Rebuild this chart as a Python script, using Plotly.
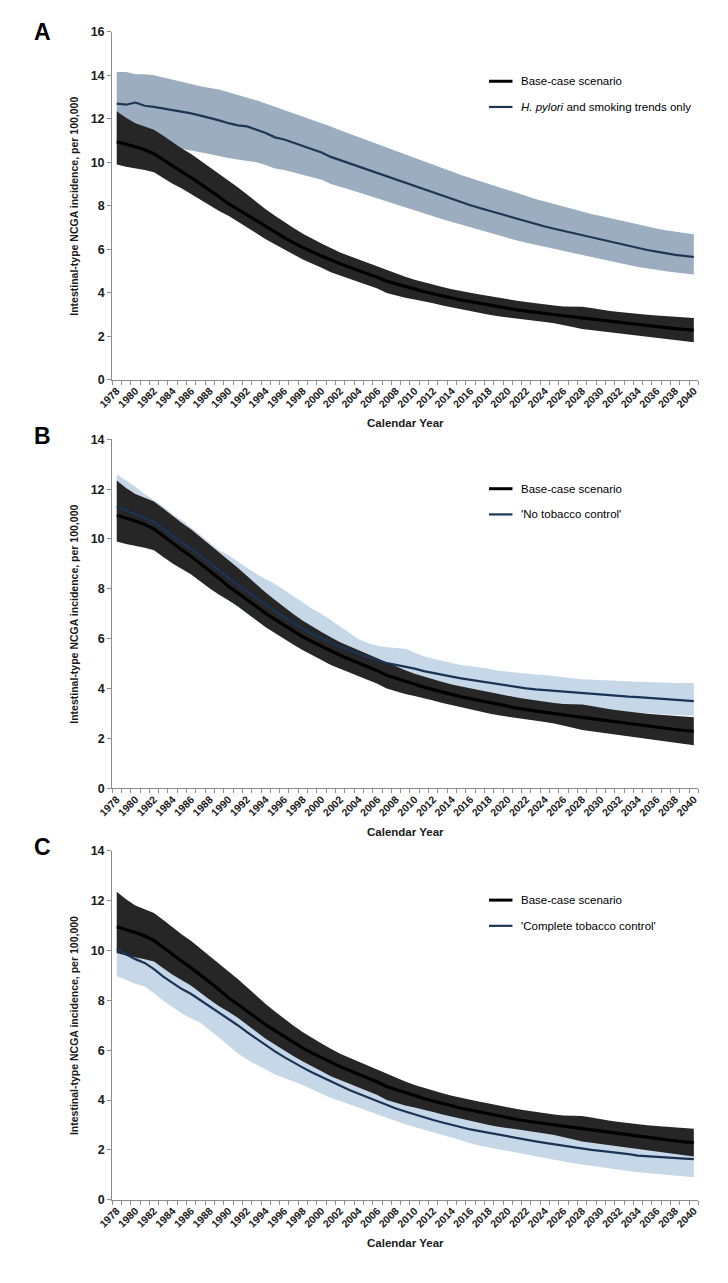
import plotly.graph_objects as go

years = list(range(1978, 2041))

base_mid = [10.95, 10.85, 10.72, 10.58, 10.4, 10.12, 9.82, 9.56, 9.3, 9.02,
            8.72, 8.42, 8.1, 7.84, 7.56, 7.28, 7.02, 6.78, 6.54, 6.3,
            6.08, 5.88, 5.7, 5.5, 5.34, 5.18, 5.03, 4.88, 4.72, 4.54,
            4.42, 4.27, 4.16, 4.06, 3.96, 3.86, 3.76, 3.67, 3.6, 3.52,
            3.43, 3.36, 3.28, 3.22, 3.16, 3.1, 3.05, 3.0, 2.95, 2.9,
            2.85, 2.79, 2.73, 2.68, 2.63, 2.58, 2.53, 2.49, 2.45, 2.4,
            2.36, 2.32, 2.29]
base_hi = [12.35, 12.05, 11.8, 11.65, 11.5, 11.22, 10.92, 10.64, 10.38, 10.08,
           9.78, 9.48, 9.15, 8.85, 8.52, 8.18, 7.85, 7.55, 7.25, 6.98,
           6.72, 6.48, 6.27, 6.06, 5.86, 5.7, 5.54, 5.39, 5.23, 5.04,
           4.9, 4.74, 4.6, 4.48, 4.37, 4.27, 4.17, 4.08, 4.01, 3.93,
           3.86, 3.78, 3.71, 3.64, 3.58, 3.52, 3.47, 3.42, 3.38, 3.37,
           3.36, 3.3, 3.22, 3.17, 3.12, 3.07, 3.02, 2.99, 2.96, 2.93,
           2.9, 2.88, 2.85]
base_lo = [9.9, 9.8, 9.72, 9.65, 9.55, 9.28, 9.02, 8.8, 8.58, 8.3,
           8.02, 7.76, 7.54, 7.3, 7.02, 6.74, 6.46, 6.24, 6.0, 5.76,
           5.54, 5.34, 5.15, 4.95, 4.8, 4.65, 4.5, 4.35, 4.2, 4.0,
           3.88, 3.78, 3.7, 3.62, 3.52, 3.42, 3.33, 3.24, 3.17, 3.08,
           3.0, 2.93, 2.86, 2.81, 2.76, 2.71, 2.66, 2.6, 2.52, 2.43,
           2.34, 2.27, 2.21, 2.16, 2.11, 2.06, 2.01, 1.96, 1.91, 1.86,
           1.81, 1.78, 1.73]

hp_mid = [12.7, 12.65, 12.75, 12.6, 12.55, 12.48, 12.42, 12.33, 12.25, 12.15,
          12.05, 11.93, 11.8, 11.7, 11.65, 11.5, 11.35, 11.15, 11.05, 10.9,
          10.75, 10.6, 10.45, 10.25, 10.1, 9.95, 9.8, 9.65, 9.5, 9.35,
          9.2, 9.05, 8.9, 8.75, 8.6, 8.45, 8.3, 8.17, 8.03, 7.9,
          7.78, 7.65, 7.53, 7.4, 7.28, 7.15, 7.05, 6.95, 6.85, 6.75,
          6.65, 6.55, 6.45, 6.35, 6.25, 6.15, 6.05, 5.97, 5.9, 5.82,
          5.75, 5.7, 5.65]
hp_hi = [14.15, 14.15, 14.05, 14.05, 14.0, 13.9, 13.78, 13.68, 13.58, 13.5,
         13.42, 13.35, 13.22, 13.1, 13.0, 12.85, 12.7, 12.55, 12.42, 12.28,
         12.12, 11.98, 11.82, 11.65, 11.48, 11.32, 11.15, 11.0, 10.85, 10.7,
         10.52, 10.38, 10.22, 10.06, 9.9, 9.74, 9.58, 9.42, 9.28, 9.14,
         9.0, 8.86, 8.72, 8.58, 8.45, 8.32, 8.2, 8.08, 7.96, 7.85,
         7.74, 7.63, 7.53, 7.43, 7.33, 7.23, 7.13, 7.04, 6.96, 6.88,
         6.8, 6.75, 6.7]
hp_lo = [10.9, 10.85, 10.9, 10.82, 10.78, 10.73, 10.62, 10.61, 10.55, 10.47,
         10.39, 10.3, 10.2, 10.13, 10.08, 10.0, 9.88, 9.72, 9.65, 9.54,
         9.43, 9.32, 9.2, 9.01, 8.88, 8.75, 8.62, 8.48, 8.35, 8.21,
         8.08, 7.94, 7.8, 7.66, 7.52, 7.38, 7.24, 7.12, 6.99, 6.87,
         6.76, 6.64, 6.53, 6.41, 6.3, 6.18, 6.09, 6.0, 5.91, 5.82,
         5.73, 5.64, 5.55, 5.46, 5.37, 5.28, 5.19, 5.12, 5.06, 4.99,
         4.93, 4.89, 4.85]

notc_mid = [11.3, 11.15, 11.0, 10.85, 10.68, 10.4, 10.12, 9.86, 9.6, 9.32,
            9.03, 8.74, 8.44, 8.17, 7.9, 7.62, 7.36, 7.1, 6.86, 6.62,
            6.4, 6.2, 6.02, 5.84, 5.68, 5.52, 5.38, 5.26, 5.14, 5.02,
            4.95, 4.88, 4.8, 4.7, 4.62, 4.55, 4.48, 4.41, 4.35, 4.29,
            4.23, 4.17, 4.11, 4.06, 4.01, 3.97, 3.94, 3.91, 3.87, 3.84,
            3.81, 3.78, 3.76, 3.73, 3.71, 3.68, 3.66, 3.63, 3.61, 3.58,
            3.56, 3.53, 3.5]
notc_hi = [12.6, 12.35, 12.1, 11.8, 11.55, 11.3, 11.0, 10.75, 10.45, 10.15,
           9.85, 9.55, 9.35, 9.1, 8.85, 8.6, 8.4, 8.2, 7.95, 7.7,
           7.45, 7.2, 7.0, 6.75, 6.5, 6.22, 5.98, 5.82, 5.72, 5.66,
           5.62, 5.6, 5.45, 5.3, 5.2, 5.1, 5.03, 4.95, 4.9, 4.85,
           4.8, 4.72, 4.68, 4.63, 4.6, 4.57, 4.55, 4.5, 4.45, 4.42,
           4.38, 4.36, 4.35, 4.33, 4.3, 4.3, 4.28, 4.27, 4.25, 4.24,
           4.23, 4.23, 4.23]
notc_lo = [10.2, 10.1, 9.95, 9.8, 9.65, 9.4, 9.12, 8.88, 8.62, 8.36,
           8.08, 7.8, 7.52, 7.26, 7.0, 6.74, 6.5, 6.26, 6.04, 5.82,
           5.62, 5.44, 5.28, 5.12, 4.98, 4.84, 4.72, 4.6, 4.5, 4.4,
           4.34, 4.28, 4.2, 4.1, 4.02, 3.95, 3.88, 3.81, 3.75, 3.69,
           3.63, 3.57, 3.51, 3.46, 3.41, 3.37, 3.34, 3.3, 3.26, 3.23,
           3.2, 3.17, 3.14, 3.11, 3.09, 3.06, 3.04, 3.01, 2.99, 2.96,
           2.94, 2.92, 2.91]

ctc_mid = [10.05, 9.85, 9.65, 9.5, 9.25, 8.95, 8.7, 8.45, 8.25, 8.0,
           7.75, 7.5, 7.28, 7.0, 6.72, 6.46, 6.2, 5.95, 5.72, 5.5,
           5.3, 5.1, 4.92, 4.75, 4.56, 4.4, 4.25, 4.1, 3.95, 3.8,
           3.66, 3.54, 3.42, 3.3, 3.2, 3.1, 3.0, 2.91, 2.82, 2.75,
           2.68, 2.6, 2.52, 2.46, 2.4, 2.34, 2.28, 2.22, 2.16, 2.1,
           2.05, 2.0, 1.96, 1.92, 1.88, 1.83, 1.77, 1.74, 1.72, 1.7,
           1.67, 1.65, 1.63]
ctc_hi = [10.8, 10.6, 10.4, 10.25, 10.0, 9.7, 9.45, 9.2, 8.98, 8.72,
          8.46, 8.2, 7.97, 7.68, 7.4, 7.13, 6.86, 6.6, 6.36, 6.13,
          5.92, 5.71, 5.52, 5.34, 5.14, 4.97, 4.81, 4.65, 4.5, 4.34,
          4.19, 4.06, 3.93, 3.8, 3.69, 3.58, 3.47, 3.37, 3.27, 3.19,
          3.11, 3.03, 2.94, 2.88, 2.81, 2.75, 2.68, 2.62, 2.56, 2.5,
          2.45, 2.4, 2.36, 2.32, 2.28, 2.23, 2.18, 2.15, 2.13, 2.11,
          2.08, 2.06, 2.04]
ctc_lo = [8.97, 8.82, 8.66, 8.55, 8.28, 7.98, 7.72, 7.47, 7.27, 7.1,
          6.8, 6.5, 6.2, 5.88, 5.62, 5.42, 5.22, 5.02, 4.86, 4.74,
          4.6, 4.42, 4.24, 4.08, 3.96, 3.82, 3.7, 3.56, 3.42, 3.28,
          3.16, 3.03, 2.93, 2.82, 2.7, 2.6, 2.5, 2.4, 2.27, 2.17,
          2.1, 2.02, 1.95, 1.88, 1.8, 1.73, 1.66, 1.6, 1.53, 1.46,
          1.41, 1.36, 1.3, 1.25, 1.2, 1.15, 1.1, 1.06, 1.02, 0.99,
          0.96, 0.93, 0.9]

x_tick_years = list(range(1978, 2041, 2))
x_tick_labels = [str(y) for y in x_tick_years]
y_max = [16, 14, 14]
panel_letters = ["A", "B", "C"]
legend_names = [
    ["Base-case scenario", "<i>H. pylori</i> and smoking trends only"],
    ["Base-case scenario", "'No tobacco control'"],
    ["Base-case scenario", "'Complete tobacco control'"],
]
y_title = "Intestinal-type NCGA incidence, per 100,000"
x_title = "Calendar Year"

# the page body has an 8px margin: size the figure so the page is 728x1283
PAGE_W, PAGE_H, OFF = 728, 1283, 8
W, H = PAGE_W - 2 * OFF, PAGE_H - 2 * OFF
FONT = "Liberation Sans, Arial, sans-serif"
AXIS_GRAY = "#8c8c8c"

def px(xp, yp):
    return (xp - OFF) / W, 1 - (yp - OFF) / H

# plot area pixel geometry per panel (page coords): (top, bottom)
panel_px = [(25, 377), (437, 790), (853, 1206)]
letter_y = [25, 434, 849]
x_left, x_right = 99, 698

scenarios = [
    (hp_mid, hp_lo, hp_hi, "#9cadc0", "#1e3654"),
    (notc_mid, notc_lo, notc_hi, "#c6d7e8", "#1b3355"),
    (ctc_mid, ctc_lo, ctc_hi, "#c6d7e8", "#1b3355"),
]

fig = go.Figure()
for i, (mid, lo, hi, band_col, line_col) in enumerate(scenarios):
    xa = "x" if i == 0 else f"x{i+1}"
    ya = "y" if i == 0 else f"y{i+1}"
    fig.add_trace(go.Scatter(x=years + years[::-1], y=hi + lo[::-1], fill="toself",
                             fillcolor=band_col, line=dict(width=0), mode="lines",
                             hoverinfo="skip", showlegend=False, xaxis=xa, yaxis=ya))
    fig.add_trace(go.Scatter(x=years + years[::-1], y=base_hi + base_lo[::-1], fill="toself",
                             fillcolor="#262626", line=dict(width=0), mode="lines",
                             hoverinfo="skip", showlegend=False, xaxis=xa, yaxis=ya))
    fig.add_trace(go.Scatter(x=years, y=mid, mode="lines", line=dict(color=line_col, width=2.2),
                             showlegend=False, xaxis=xa, yaxis=ya))
    fig.add_trace(go.Scatter(x=years, y=base_mid, mode="lines", line=dict(color="black", width=3.2),
                             showlegend=False, xaxis=xa, yaxis=ya))

layout = dict(width=W, height=H, margin=dict(l=0, r=0, t=0, b=0),
              paper_bgcolor="white", plot_bgcolor="white", showlegend=False)
annotations = []
shapes = []
boundaries = [y - 0.5 for y in years] + [years[-1] + 0.5]
xl, _ = px(x_left, 0)
xr, _ = px(x_right, 0)
for i in range(3):
    top, bot = panel_px[i]
    suffix = "" if i == 0 else str(i + 1)
    _, yb = px(0, bot)
    _, yt = px(0, top)
    layout["xaxis" + suffix] = dict(
        domain=[xl, xr], anchor="y" + suffix,
        range=[years[0] - 0.5, years[-1] + 0.5],
        tickmode="array", tickvals=x_tick_years, ticktext=x_tick_labels,
        tickangle=-45, ticks="", showline=True, linecolor=AXIS_GRAY, linewidth=1,
        tickfont=dict(family=FONT, size=10.5, color="#1a1a1a", weight="bold"),
        showgrid=False, zeroline=False,
        minor=dict(tickmode="array", tickvals=boundaries, ticks="outside",
                   ticklen=4, tickcolor=AXIS_GRAY, showgrid=False),
    )
    layout["yaxis" + suffix] = dict(
        domain=[yb, yt], anchor="x" + suffix,
        range=[0, y_max[i]], dtick=2, tick0=0,
        ticks="outside", ticklen=4, tickcolor=AXIS_GRAY,
        showline=True, linecolor=AXIS_GRAY, linewidth=1,
        tickfont=dict(family=FONT, size=12.5, color="#1a1a1a", weight="bold"),
        showgrid=False, zeroline=False,
    )
    lx, ly = px(28, letter_y[i])
    annotations.append(dict(x=lx, y=ly, xref="paper", yref="paper", text=panel_letters[i],
                            showarrow=False, font=dict(family=FONT, size=23, color="black", weight="bold"),
                            xanchor="center", yanchor="middle"))
    tx, ty = px(60, (top + bot) / 2)
    annotations.append(dict(x=tx, y=ty, xref="paper", yref="paper", text=y_title, textangle=-90,
                            showarrow=False, font=dict(family=FONT, size=10.5, color="#1a1a1a", weight="bold"),
                            xanchor="center", yanchor="middle"))
    cx, cy = px((x_left + x_right) / 2, bot + 44)
    annotations.append(dict(x=cx, y=cy, xref="paper", yref="paper", text=x_title,
                            showarrow=False, font=dict(family=FONT, size=11.5, color="#1a1a1a", weight="bold"),
                            xanchor="center", yanchor="middle"))
    leg_y = [top + 50, top + 76]
    leg_cols = ["black", scenarios[i][4]]
    leg_w = [3, 2.2]
    for k in range(2):
        x0, yy = px(484, leg_y[k])
        x1, _ = px(508, leg_y[k])
        shapes.append(dict(type="line", xref="paper", yref="paper", x0=x0, x1=x1, y0=yy, y1=yy,
                           line=dict(color=leg_cols[k], width=leg_w[k])))
        tx2, _ = px(515, leg_y[k])
        annotations.append(dict(x=tx2, y=yy, xref="paper", yref="paper", text=legend_names[i][k],
                                showarrow=False, font=dict(family=FONT, size=11.5, color="black"),
                                xanchor="left", yanchor="middle"))

layout["annotations"] = annotations
layout["shapes"] = shapes
fig.update_layout(**layout)
fig.write_html("out.html")
